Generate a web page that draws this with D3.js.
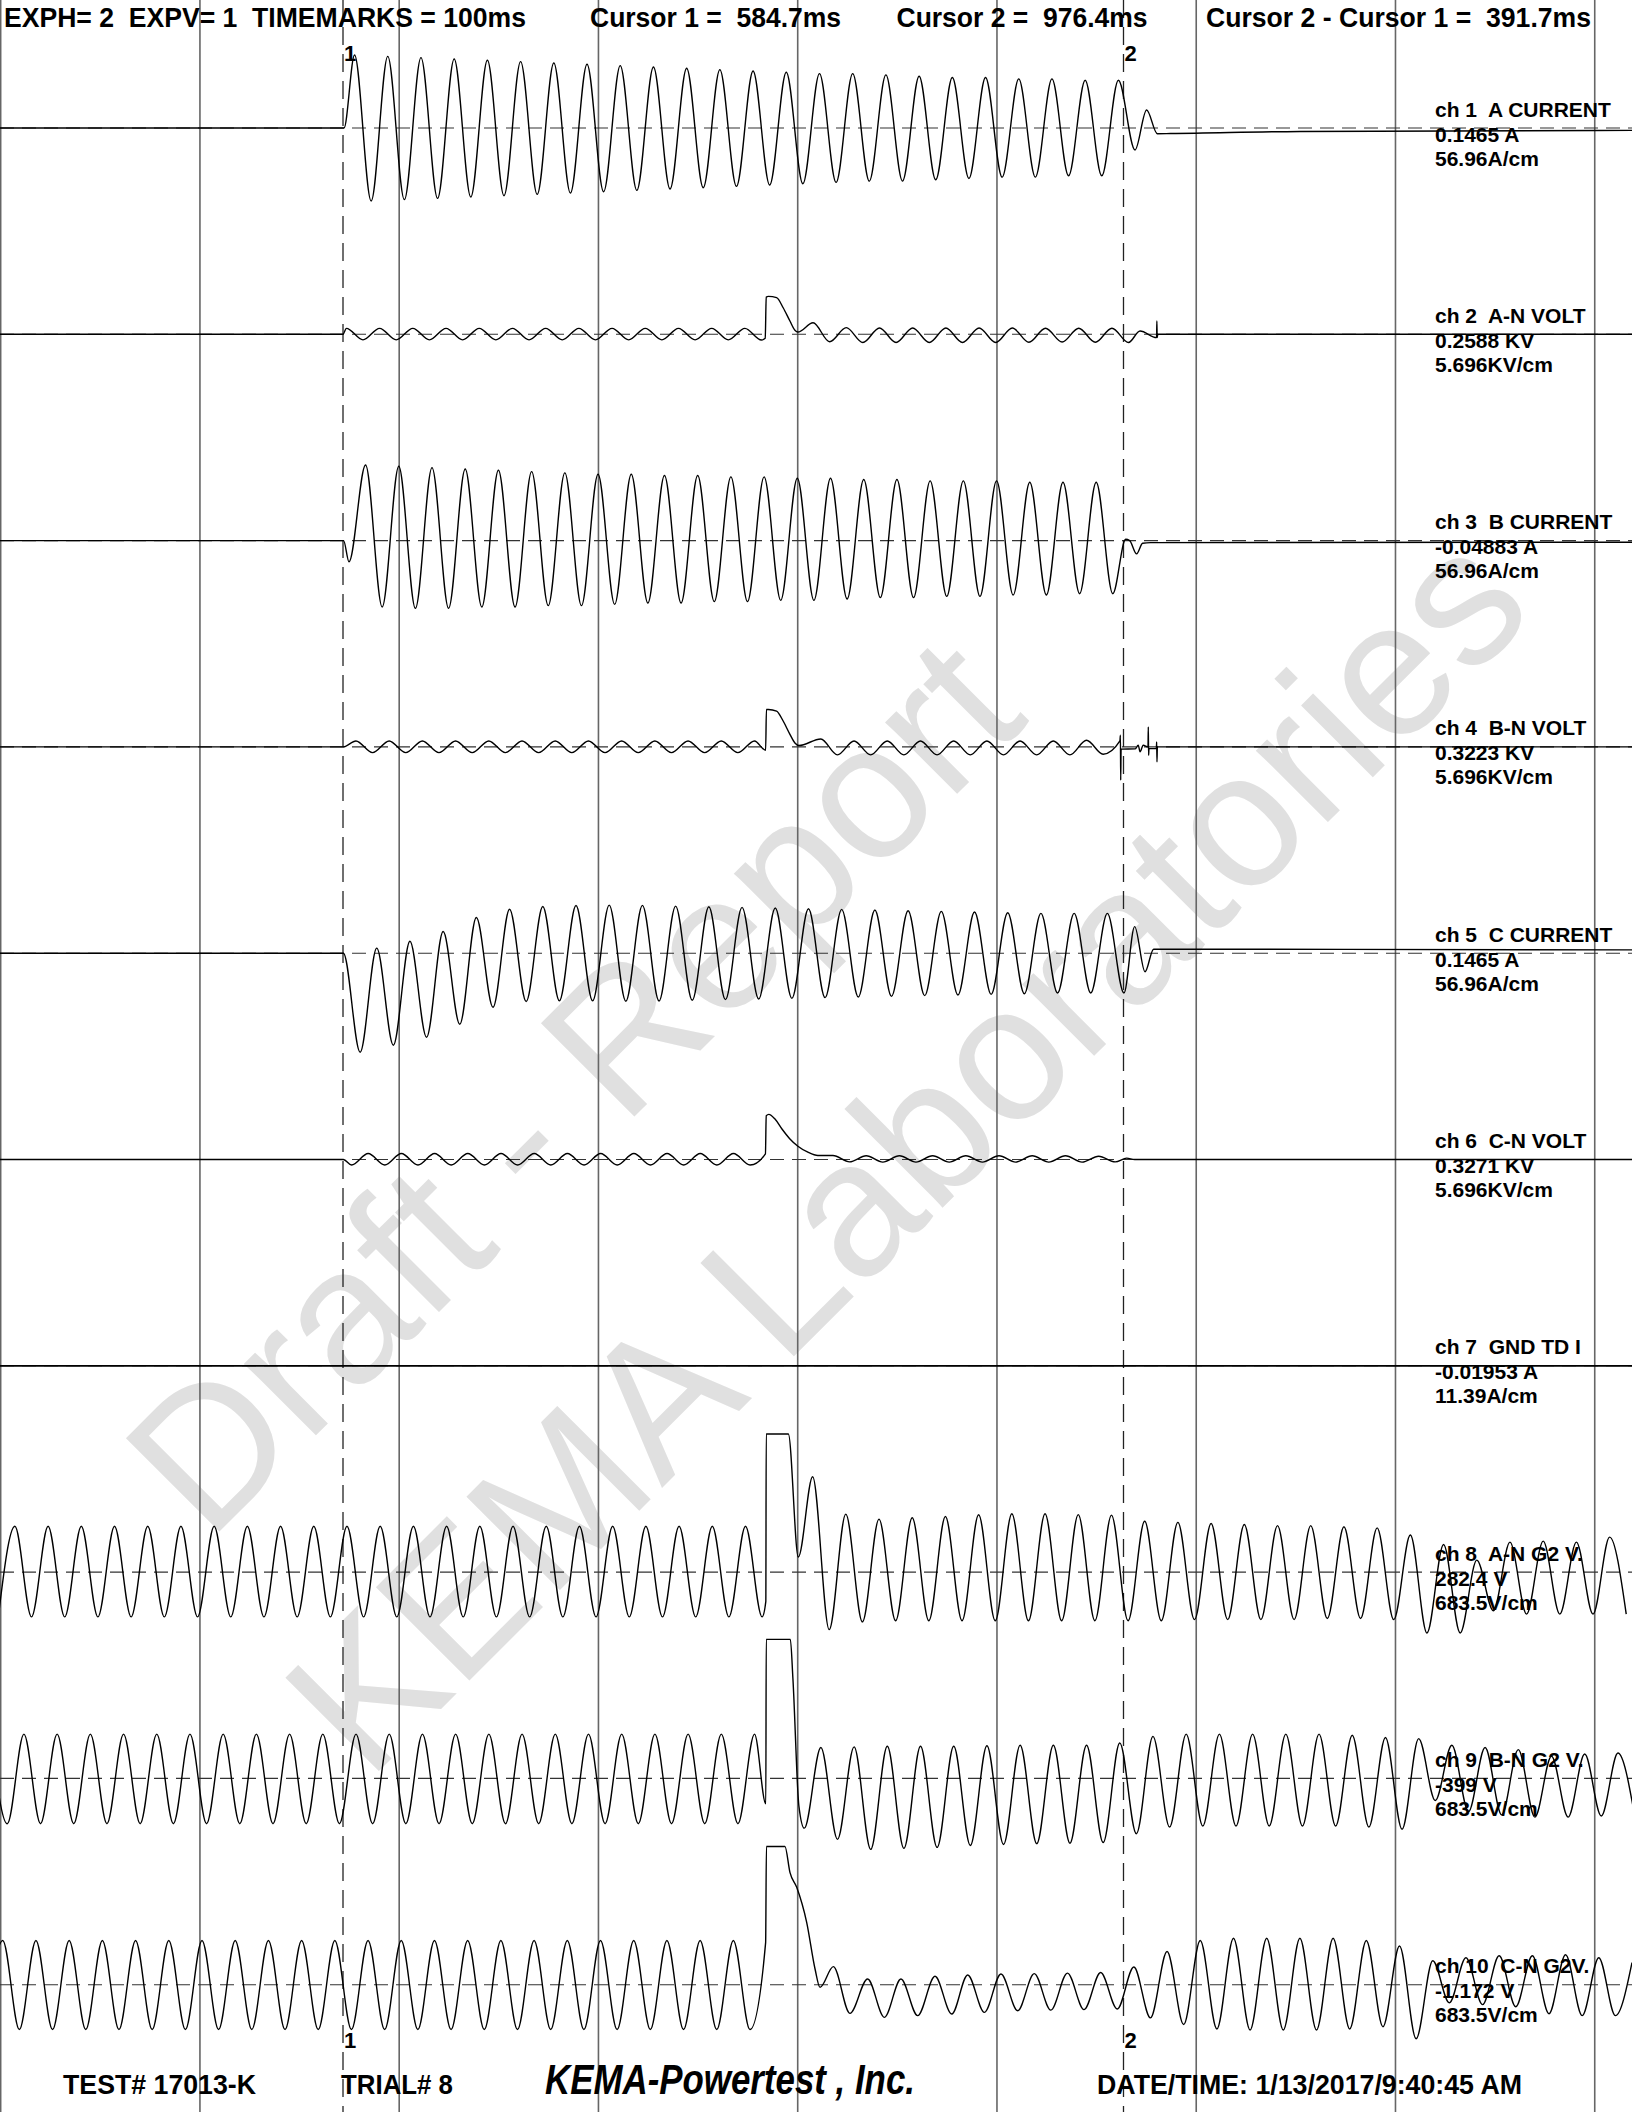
<!DOCTYPE html>
<html>
<head>
<meta charset="utf-8">
<title>KEMA oscillogram</title>
<script src="https://d3js.org/d3.v7.min.js"></script>
<style>
  body { margin: 0; background: #fff; }
  svg text { font-family: "Liberation Sans", Arial, Helvetica, sans-serif; font-weight: bold; white-space: pre; }
  .trace { fill: none; stroke: #000; stroke-width: 1.4px; }
  .grid { stroke: #666; stroke-width: 1.6px; }
  .cursor { stroke: #222; stroke-width: 1.3px; stroke-dasharray: 18 9; }
  .zero { stroke: #333; stroke-width: 1.1px; stroke-dasharray: 14 8; }
</style>
</head>
<body>
<svg id="chart" width="1632" height="2112"></svg>
<script>
// ---- time axis (ms) ----
var timeDomain = [412.56, 1231.6];
var timemarks = [412.9, 512.9, 612.9, 712.9, 812.9, 912.9, 1012.9, 1112.9, 1212.9];
var cursors = [584.7, 976.4];

// ---- channel labels ----
var chNames = ["ch 1  A CURRENT", "ch 2  A-N VOLT", "ch 3  B CURRENT", "ch 4  B-N VOLT", "ch 5  C CURRENT",
               "ch 6  C-N VOLT", "ch 7  GND TD I", "ch 8  A-N G2 V.", "ch 9  B-N G2 V.", "ch 10  C-N G2V."];
var chReadings = ["0.1465 A", "0.2588 KV", "-0.04883 A", "0.3223 KV", "0.1465 A",
                  "0.3271 KV", "-0.01953 A", "282.4 V", "-399 V", "-1.172 V"];
var chScaleText = ["56.96A/cm", "5.696KV/cm", "56.96A/cm", "5.696KV/cm", "56.96A/cm",
                   "5.696KV/cm", "11.39A/cm", "683.5V/cm", "683.5V/cm", "683.5V/cm"];
var unitsPerCm = [56.96, 5.696, 56.96, 5.696, 56.96, 5.696, 11.39, 683.5, 683.5, 683.5];

// ---- traces: [t ms, value] points plus runs of half-cycle extrema (60 Hz) ----
// ch1 A current (A)
var ch1Pre = [[412.5, 0], [585.2, 0]];
var ch1Start = 590.5;
var ch1Osc = [55,-55,54,-54,53,-53,52,-52,51,-51,50,-50,49,-49,48,-48,47,-47,46,-46,45,-45,44,-44,
              43,-43,42,-42,41,-41,41,-40,40,-40,39,-39,38,-38,38,-37,37,-37,37,-36,36,-36,36];
var ch1Post = [[982.2, -16.6], [988.0, 13.6], [993.4, -4.3], [1000, -4.2], [1065, -2.6], [1232, -1.8]];

// ch2 A-N volt (kV)
var ch2Pre = [[412.5, 0], [584.7, 0]];
var ch2Start = 586.4;
var ch2Osc = [0.45,-0.42,0.45,-0.42,0.45,-0.42,0.45,-0.42,0.45,-0.42,0.45,-0.42,0.45,-0.42,
              0.45,-0.42,0.45,-0.42,0.45,-0.42,0.45,-0.42,0.45,-0.42,0.45,-0.43];
var ch2Spike = [[796.6, -0.3], [797.1, 2.8], [798.2, 2.86], [802.3, 2.76], [805.6, 2.0], [809.0, 1.0],
                [811.5, 0.3], [813.0, 0.17]];
var ch2Start2 = 820.6;
var ch2Osc2 = [0.87,-0.56,0.5,-0.62,0.48,-0.62,0.47,-0.62,0.47,-0.62,0.47,-0.62,0.47,-0.6,0.46,-0.58,0.46,-0.6,0.46,-0.62];
var ch2Post = [[984.7, 0.25], [993.0, -0.25], [993.15, 1.0], [993.3, -0.25], [993.6, 0], [1232, 0]];

// ch3 B current (A)
var ch3Pre = [[412.5, 0], [585.0, 0]];
var ch3Start = 587.7;
var ch3Osc = [-16,57,-50,56,-51,55,-51,54,-50,53,-50,52,-49,51,-49,50,-48,50,-47,49,-47,49,-46,48,
              -46,48,-45,47,-45,47,-44,46,-43,46,-43,45,-42,45,-42,45,-41,44,-41,44,-40,44,-40];
var ch3Post = [[977.5, 1], [979.5, 0], [983.0, -10], [986.0, -2], [990, -1.5], [1232, -1.2]];

// ch4 B-N volt (kV)
var ch4Pre = [[412.5, 0], [584.9, 0]];
var ch4Start = 591.2;
var ch4Osc = [0.45,-0.43,0.45,-0.43,0.45,-0.43,0.45,-0.43,0.45,-0.43,0.45,-0.43,0.45,-0.43,
              0.45,-0.43,0.45,-0.43,0.45,-0.43,0.45,-0.43,0.45,-0.43,0.45];
var ch4Spike = [[796.8, -0.25], [797.2, 2.82], [798.2, 2.82], [802.3, 2.7], [805.6, 1.95], [809.0, 0.95],
                [811.5, 0.3], [813.5, 0.1]];
var ch4Start2 = 824.5;
var ch4Osc2 = [0.6,-0.6,0.45,-0.6,0.45,-0.6,0.45,-0.6,0.45,-0.6,0.45,-0.6,0.45,-0.6,0.45,-0.6,0.5,-0.55];
var ch4Post = [[974.6, 0.45], [974.85, 0.88], [975.0, -2.5], [975.2, -0.17], [982.2, -0.15], [983.8, 0.13],
               [984.7, -0.37], [986.3, 0.13], [988.7, 0.0], [988.85, 1.5], [989.0, -0.63], [989.2, -0.13],
               [992.9, -0.13], [993.05, 0.38], [993.2, -1.13], [993.4, 0], [1232, 0]];

// ch5 C current (A)
var ch5Pre = [[412.5, 0], [584.9, 0]];
var ch5Start = 593.3;
var ch5Osc = [-74.6,3.8,-69.3,9,-63.3,16.3,-53.5,26.9,-40.7,33.1,-36.4,35.2,-35.9,35.9,-35.9,36.2,
              -36.2,36,-36,35.5,-35.5,35,-35,34.5,-34.5,34,-34,33.5,-33.5,33,-33,32.5,-32.5,32,
              -32,31.5,-31.5,31,-31,30.5,-30.5,30,-30,30,-30,30,-30];
var ch5Post = [[982.0, 20], [987.2, -14], [991.5, 3], [1000, 3], [1232, 2.5]];

// ch6 C-N volt (kV)
var ch6Pre = [[412.5, 0], [584.9, 0]];
var ch6Start = 589.0;
var ch6Osc = [-0.42,0.45,-0.42,0.45,-0.42,0.45,-0.42,0.45,-0.42,0.45,-0.42,0.45,-0.42,0.45,
              -0.42,0.45,-0.42,0.45,-0.42,0.45,-0.42,0.45,-0.42,0.45,-0.42];
var ch6Spike = [[796.7, 0.42], [797.1, 3.3], [798.4, 3.4], [801.5, 3.05], [805, 2.3], [809, 1.55],
                [813, 1.0], [818, 0.55], [823, 0.3]];
var ch6Start2 = 830.6;
var ch6Osc2 = [0.3,-0.18,0.28,-0.2,0.28,-0.2,0.28,-0.2,0.28,-0.2,0.28,-0.2,0.28,-0.2,0.28,-0.2,0.25,-0.18];
var ch6Post = [[978, 0.1], [982, 0], [1232, 0]];

// ch7 ground current (A)
var ch7Pre = [[412.5, 0], [1232, 0]];

// ch8 A-N G2 V (V)
var ch8Start = 411.7;
var ch8Osc = [-405,415,-405,415,-405,415,-405,415,-405,415,-405,415,-405,415,-405,415,-405,415,
              -405,415,-405,415,-405,415,-405,415,-405,415,-405,415,-405,415,-405,415,-405,415,
              -405,415,-405,415,-405,415,-405,415,-405,415,-405];
var ch8Event = [[796.9, -265], [797.1, 1248], [808.2, 1248], [813.2, 136], [820.4, 862]];
var ch8Start2 = 828.7;
var ch8Osc2 = [-520,524,-450,479,-440,491,-440,503,-440,518,-440,527,-440,527,-440,520,-440,515,
               -440,460,-440,450,-430,440,-430,430,-430,420,-430,420,-420,410,-420,400,-430,335,
               -550,250,-550,108,-350,271,-380,280,-380,271,-380,316,-380];

// ch9 B-N G2 V (V)
var ch9Start = 407.9;
var ch9Osc = [400,-410,400,-410,400,-410,400,-410,400,-410,400,-410,400,-410,400,-410,400,-410,
              400,-410,400,-410,400,-410,400,-410,400,-410,400,-410,400,-410,400,-410,400,-410,
              400,-410,400,-410,400,-410,400,-410,400,-410,400];
var ch9Event = [[796.9, -230], [797.1, 1257], [809.2, 1257], [810.5, 900], [813.5, -250]];
var ch9Start2 = 816.2;
var ch9Osc2 = [-450,280,-551,285,-642,290,-633,290,-624,290,-606,295,-597,300,-590,300,-585,300,
               -580,320,-500,380,-440,400,-430,400,-430,400,-430,400,-430,400,-430,390,-440,370,
               -460,360,-200,300,-300,280,-330,260,-350,200,-350,220,-340,230,-330];

// ch10 C-N G2 V (V)
var ch10Start = 405.6;
var ch10Osc = [-405,400,-405,400,-405,400,-405,400,-405,400,-405,400,-405,400,-405,400,-405,400,
               -405,400,-405,400,-405,400,-405,400,-405,400,-405,400,-405,400,-405,400,-405,400,
               -405,400,-405,400,-405,400,-405,400,-405,400,-405];
var ch10Event = [[796.8, 380], [797.2, 1250], [806.5, 1250], [809.0, 1016], [812.4, 881], [817.4, 564],
                 [821.6, 142], [824.1, -24], [830.8, 163], [839.1, -259], [848.0, 52], [856.4, -295],
                 [864.7, 52], [873.1, -280], [881.8, 76], [890.2, -265], [898.2, 88], [906.6, -250],
                 [914.9, 97], [923.3, -235]];
var ch10Start2 = 931.6;
var ch10Osc2 = [100,-230,105,-225,110,-220,160,-300,300,-360,400,-400,420,-410,420,-410,420,-410,
                420,-400,400,-380,350,-488,217,-163,244,-180,262,-199,262,-262,271,-280,244,-280,200];

// ---- build ----
var W = 1632, HT = 2112;
var PX_PER_CM = 75.6;
var HALF = 1000 / 120;
var rowBase = 128, rowStep = 206.3;

function run(t0, vals) {
  return vals.map(function(v, i) { return [t0 + i * HALF, v]; });
}

var traces = [
  [].concat(ch1Pre, run(ch1Start, ch1Osc), ch1Post),
  [].concat(ch2Pre, run(ch2Start, ch2Osc), ch2Spike, run(ch2Start2, ch2Osc2), ch2Post),
  [].concat(ch3Pre, run(ch3Start, ch3Osc), ch3Post),
  [].concat(ch4Pre, run(ch4Start, ch4Osc), ch4Spike, run(ch4Start2, ch4Osc2), ch4Post),
  [].concat(ch5Pre, run(ch5Start, ch5Osc), ch5Post),
  [].concat(ch6Pre, run(ch6Start, ch6Osc), ch6Spike, run(ch6Start2, ch6Osc2), ch6Post),
  ch7Pre,
  [].concat(run(ch8Start, ch8Osc), ch8Event, run(ch8Start2, ch8Osc2)),
  [].concat(run(ch9Start, ch9Osc), ch9Event, run(ch9Start2, ch9Osc2)),
  [].concat(run(ch10Start, ch10Osc), ch10Event, run(ch10Start2, ch10Osc2))
];

var svg = d3.select("#chart");
var x = d3.scaleLinear().domain(timeDomain).range([0, W]);

var yScales = unitsPerCm.map(function(u, i) {
  var base = rowBase + i * rowStep;
  return d3.scaleLinear().domain([0, u]).range([base, base - PX_PER_CM]);
});

svg.append("rect").attr("width", W).attr("height", HT).attr("fill", "#fff");

// watermark
var wm = svg.append("g").attr("fill", "#e0e0e0").style("font-size", "192px");
wm.append("text").attr("transform", "translate(572,1084) rotate(-45)")
  .attr("text-anchor", "middle").attr("dy", "0.35em").style("font-weight", "normal").text("Draft - Report");
wm.append("text").attr("transform", "translate(905,1150) rotate(-45)")
  .attr("text-anchor", "middle").attr("dy", "0.35em").style("font-weight", "normal").text("KEMA Laboratories");

// time marks
svg.selectAll(".grid").data(timemarks).enter().append("line")
  .attr("class", "grid")
  .attr("x1", function(d) { return x(d); }).attr("x2", function(d) { return x(d); })
  .attr("y1", 0).attr("y2", HT);

// zero lines
svg.selectAll(".zero").data(yScales).enter().append("line")
  .attr("class", "zero")
  .attr("x1", 0).attr("x2", W)
  .attr("y1", function(s) { return s(0); }).attr("y2", function(s) { return s(0); });

// cursors
svg.selectAll(".cursor").data(cursors).enter().append("line")
  .attr("class", "cursor")
  .attr("x1", function(d) { return x(d); }).attr("x2", function(d) { return x(d); })
  .attr("y1", 0).attr("y2", HT);

// traces
traces.forEach(function(pts, i) {
  var line = d3.line()
    .x(function(d) { return x(d[0]); })
    .y(function(d) { return yScales[i](d[1]); })
    .curve(d3.curveMonotoneX);
  svg.append("path").attr("class", "trace").attr("d", line(pts))
    .style("stroke-width", i === 6 ? "1.8px" : null);
});

// channel labels
var lab = svg.append("g").style("font-size", "21px");
chNames.forEach(function(name, i) {
  var base = yScales[i](0);
  lab.append("text").attr("x", 1435).attr("y", base - 11.5).text(name);
  lab.append("text").attr("x", 1435).attr("y", base + 13.5).text(chReadings[i]);
  lab.append("text").attr("x", 1435).attr("y", base + 37.5).text(chScaleText[i]);
});

// header
var header = [
  {s: "EXPH= 2  EXPV= 1  TIMEMARKS = 100ms", x: 4, w: 522},
  {s: "Cursor 1 =  584.7ms", x: 590, w: 251},
  {s: "Cursor 2 =  976.4ms", x: 896.5, w: 251},
  {s: "Cursor 2 - Cursor 1 =  391.7ms", x: 1206, w: 385}
];
svg.append("g").style("font-size", "28px").selectAll("text").data(header).enter().append("text")
  .attr("x", function(d) { return d.x; }).attr("y", 27)
  .attr("textLength", function(d) { return d.w; }).attr("lengthAdjust", "spacingAndGlyphs")
  .text(function(d) { return d.s; });

// cursor numbers
var cm = svg.append("g").style("font-size", "22px");
cursors.forEach(function(c, i) {
  cm.append("text").attr("x", x(c) + 1).attr("y", 61).text(String(i + 1));
  cm.append("text").attr("x", x(c) + 1).attr("y", 2048).text(String(i + 1));
});

// footer
var footer = [
  {s: "TEST# 17013-K", x: 63, w: 193, size: 28, italic: false},
  {s: "TRIAL# 8", x: 341, w: 112, size: 28, italic: false},
  {s: "KEMA-Powertest , Inc.", x: 545, w: 370, size: 42, italic: true},
  {s: "DATE/TIME: 1/13/2017/9:40:45 AM", x: 1097, w: 425, size: 28, italic: false}
];
svg.append("g").selectAll("text").data(footer).enter().append("text")
  .attr("x", function(d) { return d.x; }).attr("y", 2094)
  .style("font-size", function(d) { return d.size + "px"; })
  .style("font-style", function(d) { return d.italic ? "italic" : "normal"; })
  .attr("textLength", function(d) { return d.w; }).attr("lengthAdjust", "spacingAndGlyphs")
  .text(function(d) { return d.s; });
</script>
</body>
</html>
